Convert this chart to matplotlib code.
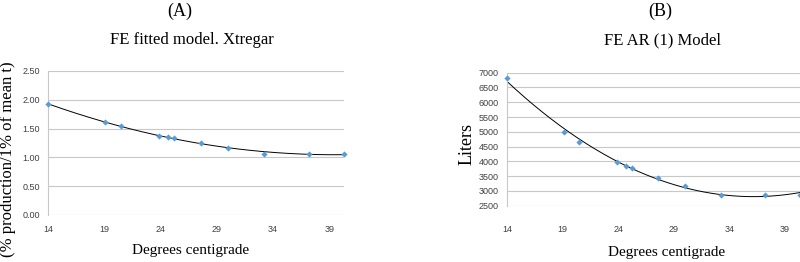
import numpy as np
import matplotlib
matplotlib.use("Agg")
import matplotlib.pyplot as plt

# temperatures (degrees centigrade)
temps = [14, 19.1, 20.5, 23.9, 24.7, 25.2, 27.6, 30.0, 33.2, 37.2, 40.3]
# (A) FE fitted model, Xtregar
prod_ratio = [1.92, 1.61, 1.545, 1.38, 1.36, 1.33, 1.245, 1.157, 1.06, 1.06, 1.06]
# (B) FE AR(1) model, liters
liters = [6807, 5003, 4665, 3977, 3853, 3786, 3447, 3165, 2872, 2872, 2872]

xticks = [14, 19, 24, 29, 34, 39]

serif = "Liberation Serif"
sans = "Liberation Sans"
grid_col = "#c8c8c8"
tick_col = "#404040"
mark_col = "#5b9bd5"


def draw_panel(ax, x, y, yticks, ylim, fmt, deg, xpad):
    coef = np.polyfit(x, y, deg)
    xs = np.linspace(min(x), max(x), 200)
    ax.plot(xs, np.polyval(coef, xs), color="black", lw=0.7, zorder=2)
    ax.scatter(x, y, marker="D", s=10, color=mark_col, zorder=3, linewidths=0,
               clip_on=False)
    ax.set_xlim(min(x), max(x))
    ax.set_ylim(*ylim)
    ax.set_xticks(xticks)
    ax.set_yticks(yticks)
    ax.set_yticklabels([fmt.format(v) for v in yticks])
    ax.yaxis.grid(True, color=grid_col, lw=0.8)
    ax.set_axisbelow(True)
    for s in ["top", "right", "bottom"]:
        ax.spines[s].set_visible(False)
    ax.spines["left"].set_color(grid_col)
    ax.tick_params(length=0, labelsize=6.5, labelcolor=tick_col)
    ax.tick_params(axis="y", pad=6)
    ax.tick_params(axis="x", pad=xpad)
    for lab in ax.get_xticklabels() + ax.get_yticklabels():
        lab.set_fontfamily(sans)


fig = plt.figure(figsize=(8, 2.62), dpi=100)

ax1 = fig.add_axes([0.06, 1 - 215 / 262, 0.37, 144 / 262])
draw_panel(ax1, temps, prod_ratio, [0, 0.5, 1.0, 1.5, 2.0, 2.5], (0, 2.5),
           "{:.2f}", 2, 7)

ax2 = fig.add_axes([507 / 800, 1 - 205.7 / 262, 292.5 / 800, 133 / 262])
draw_panel(ax2, temps, liters, list(range(2500, 7001, 500)), (2500, 7000),
           "{:d}", 2, 14)

# axis labels
fig.text(0.01, 0.393, "(% production/1% of mean t)", rotation=90, ha="center",
         va="center", fontfamily=serif, fontsize=12)
fig.text(0.584, 0.45, "Liters", rotation=90, ha="center", va="center",
         fontfamily=serif, fontsize=13)
fig.text(0.238, 0.042, "Degrees centigrade", ha="center", va="center",
         fontfamily=serif, fontsize=11)
fig.text(0.833, 0.038, "Degrees centigrade", ha="center", va="center",
         fontfamily=serif, fontsize=11)

# panel headings
fig.text(0.225, 0.958, "(A)", ha="center", va="center", fontfamily=serif, fontsize=13)
fig.text(0.24, 0.847, "FE fitted model. Xtregar", ha="center", va="center",
         fontfamily=serif, fontsize=12)
fig.text(0.825, 0.958, "(B)", ha="center", va="center", fontfamily=serif, fontsize=13)
fig.text(0.8275, 0.847, "FE AR (1) Model", ha="center", va="center",
         fontfamily=serif, fontsize=12)

fig.savefig("out.png", dpi=100)
